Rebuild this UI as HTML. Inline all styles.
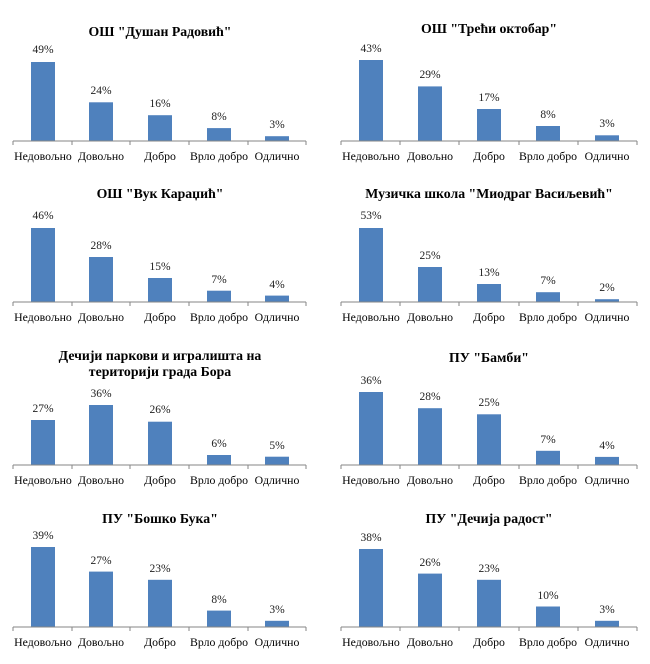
<!DOCTYPE html>
<html><head><meta charset="utf-8"><style>
body{margin:0;background:#fff;}
svg{display:block;font-family:"Liberation Serif","DejaVu Serif",serif;}
.t{font-size:13.8px;font-weight:bold;text-anchor:middle;fill:#000}
.v{font-size:11.5px;text-anchor:middle;fill:#222}
.c{font-size:11.8px;text-anchor:middle;fill:#000}
rect{fill:#4f81bd}
line{stroke:#868686;stroke-width:1}
</style></head><body>
<svg width="650" height="664" viewBox="0 0 650 664">
<defs>
<g id="axL"><line x1="13" y1="0" x2="306" y2="0"/><line x1="13" y1="0" x2="13" y2="4"/><line x1="72" y1="0" x2="72" y2="4"/><line x1="130" y1="0" x2="130" y2="4"/><line x1="189" y1="0" x2="189" y2="4"/><line x1="248" y1="0" x2="248" y2="4"/><line x1="306" y1="0" x2="306" y2="4"/>
<text class="c" x="43" y="19">Недовољно</text><text class="c" x="101" y="19">Довољно</text><text class="c" x="160" y="19">Добро</text><text class="c" x="219" y="19">Врло добро</text><text class="c" x="277" y="19">Одлично</text></g>
<g id="axR"><line x1="341" y1="0" x2="637" y2="0"/><line x1="341" y1="0" x2="341" y2="4"/><line x1="400" y1="0" x2="400" y2="4"/><line x1="459" y1="0" x2="459" y2="4"/><line x1="519" y1="0" x2="519" y2="4"/><line x1="578" y1="0" x2="578" y2="4"/><line x1="637" y1="0" x2="637" y2="4"/>
<text class="c" x="371" y="19">Недовољно</text><text class="c" x="430" y="19">Довољно</text><text class="c" x="489" y="19">Добро</text><text class="c" x="548" y="19">Врло добро</text><text class="c" x="607" y="19">Одлично</text></g>
</defs>

<text class="t" x="160" y="36">ОШ "Душан Радовић"</text>
<rect x="31" y="62" width="24" height="79"/><rect x="89" y="102.3" width="24" height="38.7"/><rect x="148" y="115.2" width="24" height="25.8"/><rect x="207" y="128.1" width="24" height="12.9"/><rect x="265" y="136.2" width="24" height="4.8"/>
<text class="v" x="43" y="53">49%</text><text class="v" x="101" y="94">24%</text><text class="v" x="160" y="107">16%</text><text class="v" x="219" y="120">8%</text><text class="v" x="277" y="128">3%</text>
<use href="#axL" y="141"/>

<text class="t" x="489" y="33">ОШ "Трећи октобар"</text>
<rect x="359" y="60" width="24" height="81"/><rect x="418" y="86.4" width="24" height="54.6"/><rect x="477" y="109" width="24" height="32"/><rect x="536" y="126" width="24" height="15"/><rect x="595" y="135.3" width="24" height="5.7"/>
<text class="v" x="371" y="52">43%</text><text class="v" x="430" y="78">29%</text><text class="v" x="489" y="101">17%</text><text class="v" x="548" y="118">8%</text><text class="v" x="607" y="127">3%</text>
<use href="#axR" y="141"/>

<text class="t" x="160" y="198">ОШ "Вук Караџић"</text>
<rect x="31" y="228" width="24" height="74"/><rect x="89" y="257" width="24" height="45"/><rect x="148" y="278" width="24" height="24"/><rect x="207" y="290.7" width="24" height="11.3"/><rect x="265" y="295.6" width="24" height="6.4"/>
<text class="v" x="43" y="219">46%</text><text class="v" x="101" y="249">28%</text><text class="v" x="160" y="270">15%</text><text class="v" x="219" y="283">7%</text><text class="v" x="277" y="288">4%</text>
<use href="#axL" y="302"/>

<text class="t" x="489" y="198">Музичка школа "Миодраг Васиљевић"</text>
<rect x="359" y="228" width="24" height="74"/><rect x="418" y="267" width="24" height="35"/><rect x="477" y="284" width="24" height="18"/><rect x="536" y="292.2" width="24" height="9.8"/><rect x="595" y="299.2" width="24" height="2.8"/>
<text class="v" x="371" y="219">53%</text><text class="v" x="430" y="259">25%</text><text class="v" x="489" y="276">13%</text><text class="v" x="548" y="284">7%</text><text class="v" x="607" y="291">2%</text>
<use href="#axR" y="302"/>

<text class="t" x="160" y="360">Дечији паркови и игралишта на</text>
<text class="t" x="160" y="376">територији града Бора</text>
<rect x="31" y="420" width="24" height="45"/><rect x="89" y="405" width="24" height="60"/><rect x="148" y="421.7" width="24" height="43.3"/><rect x="207" y="455" width="24" height="10"/><rect x="265" y="456.7" width="24" height="8.3"/>
<text class="v" x="43" y="412">27%</text><text class="v" x="101" y="397">36%</text><text class="v" x="160" y="413">26%</text><text class="v" x="219" y="447">6%</text><text class="v" x="277" y="449">5%</text>
<use href="#axL" y="465"/>

<text class="t" x="489" y="362">ПУ "Бамби"</text>
<rect x="359" y="392" width="24" height="73"/><rect x="418" y="408.2" width="24" height="56.8"/><rect x="477" y="414.3" width="24" height="50.7"/><rect x="536" y="450.8" width="24" height="14.2"/><rect x="595" y="456.9" width="24" height="8.1"/>
<text class="v" x="371" y="384">36%</text><text class="v" x="430" y="400">28%</text><text class="v" x="489" y="406">25%</text><text class="v" x="548" y="443">7%</text><text class="v" x="607" y="449">4%</text>
<use href="#axR" y="465"/>

<text class="t" x="160" y="523">ПУ "Бошко Бука"</text>
<rect x="31" y="547" width="24" height="80"/><rect x="89" y="571.6" width="24" height="55.4"/><rect x="148" y="579.8" width="24" height="47.2"/><rect x="207" y="610.6" width="24" height="16.4"/><rect x="265" y="620.8" width="24" height="6.2"/>
<text class="v" x="43" y="539">39%</text><text class="v" x="101" y="564">27%</text><text class="v" x="160" y="572">23%</text><text class="v" x="219" y="603">8%</text><text class="v" x="277" y="613">3%</text>
<use href="#axL" y="627"/>

<text class="t" x="489" y="523">ПУ "Дечија радост"</text>
<rect x="359" y="549" width="24" height="78"/><rect x="418" y="573.6" width="24" height="53.4"/><rect x="477" y="579.8" width="24" height="47.2"/><rect x="536" y="606.5" width="24" height="20.5"/><rect x="595" y="620.8" width="24" height="6.2"/>
<text class="v" x="371" y="541">38%</text><text class="v" x="430" y="566">26%</text><text class="v" x="489" y="572">23%</text><text class="v" x="548" y="599">10%</text><text class="v" x="607" y="613">3%</text>
<use href="#axR" y="627"/>
</svg>
</body></html>
